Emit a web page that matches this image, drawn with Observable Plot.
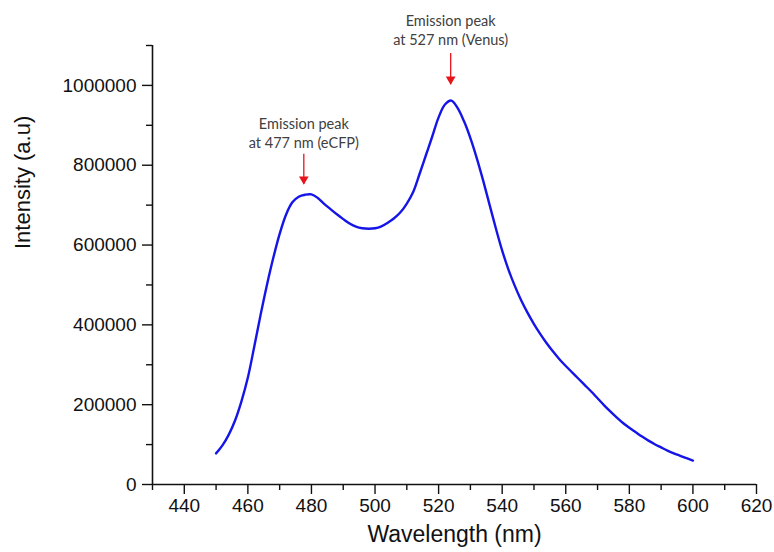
<!DOCTYPE html>
<html><head><meta charset="utf-8">
<script src="https://cdn.jsdelivr.net/npm/d3@7"></script>
<script src="https://cdn.jsdelivr.net/npm/@observablehq/plot@0.6"></script>
<style>body{margin:0;background:#fff}</style>
</head><body><div id="chart"></div>
<script>
const wavelength = [450,452,454,456,458,460,462,464,466,468,470,472,474,476,478,480,482,484,486,488,490,492,494,496,498,500,502,504,506,508,510,512,514,516,518,520,522,524,526,528,530,532,534,536,538,540,542,544,546,548,550,552,554,556,558,560,562,564,566,568,570,572,574,576,578,580,582,584,586,588,590,592,594,596,598,600];
const intensity = [78000,98000,125000,161000,209000,268000,345000,425000,500000,568000,628000,676000,707000,721000,726000,727000,718000,703000,690000,677000,665000,654000,646000,642000,641000,642000,647000,656000,667000,682000,704000,733000,778000,825000,872000,920000,952000,962000,943000,910000,868000,818000,762000,702000,642000,586000,538000,497000,461000,430000,402000,377000,354000,333000,314000,297000,281000,265000,249000,233000,216000,199000,183000,168000,154000,142000,131000,120000,110000,101000,93000,85000,78000,72000,66000,60000];
const xMajorTicks = [440,460,480,500,520,540,560,580,600,620];
const xMinorTicks = [430,450,470,490,510,530,550,570,590,610];
const yMajorTicks = [0,200000,400000,600000,800000,1000000];
const yMinorTicks = [100000,300000,500000,700000,900000,1100000];
const peakWavelength = [477.6, 523.8];
const peakLine1 = ["Emission peak", "Emission peak"];
const peakLine2 = ["at 477 nm (eCFP)", "at 527 nm (Venus)"];
const arrowFrom = [827500, 1080000];
const arrowTo = [752500, 1002500];
const labelY = [855000, 1112500];

const spectrum = wavelength.map((w, i) => ({w, v: intensity[i]}));
const notes = peakWavelength.map((w, i) => ({w, l1: peakLine1[i], l2: peakLine2[i], from: arrowFrom[i], to: arrowTo[i], ly: labelY[i]}));

const chart = Plot.plot({
  width: 774, height: 552,
  marginLeft: 152, marginRight: 18, marginTop: 45, marginBottom: 68,
  style: {background: "#fff", color: "#111", fontFamily: "Liberation Sans, Arial, sans-serif"},
  x: {domain: [430, 620]},
  y: {domain: [0, 1100000]},
  marks: [
    Plot.axisY(yMajorTicks, {tickSize: 10, tickPadding: 6, tickFormat: d3.format("d"), fontSize: 19, stroke: "#111", strokeWidth: 1.4, label: null}),
    Plot.axisY(yMinorTicks, {tickSize: 6, tickFormat: () => "", stroke: "#111", strokeWidth: 1.4, label: null}),
    Plot.axisX(xMajorTicks, {tickSize: 10, tickPadding: 4, tickFormat: d3.format("d"), fontSize: 19, stroke: "#111", strokeWidth: 1.4, label: null}),
    Plot.axisX(xMinorTicks, {tickSize: 6, tickFormat: () => "", stroke: "#111", strokeWidth: 1.4, label: null}),
    Plot.ruleX([430], {y1: 0, y2: 1100000, stroke: "#111", strokeWidth: 1.6}),
    Plot.ruleY([0], {x1: 430, x2: 620, stroke: "#111", strokeWidth: 1.6}),
    Plot.line(spectrum, {x: "w", y: "v", stroke: "#1515e8", strokeWidth: 2.4, curve: "catmull-rom"}),
    Plot.ruleX(notes, {x: "w", y1: "from", y2: "to", stroke: "#e8141a", strokeWidth: 1.3}),
    Plot.dot(notes, {x: "w", y: "to", symbol: "triangle", rotate: 180, r: 3.6, dy: -5, fill: "#e8141a", stroke: "none"}),
    Plot.text(notes, {x: "w", y: "ly", text: "l2", fontFamily: "Lato, sans-serif", fontSize: 14.5, fill: "#404040"}),
    Plot.text(notes, {x: "w", y: "ly", text: "l1", dy: -19, fontFamily: "Lato, sans-serif", fontSize: 14.5, fill: "#404040"}),
    Plot.text(["Wavelength (nm)"], {frameAnchor: "bottom", dy: 57, fontSize: 23, fill: "#111"}),
    Plot.text(["Intensity (a.u)"], {frameAnchor: "left", rotate: -90, dx: -130, dy: -16, fontSize: 22, fill: "#111"})
  ]
});
document.getElementById("chart").appendChild(chart);
</script>
</body></html>
